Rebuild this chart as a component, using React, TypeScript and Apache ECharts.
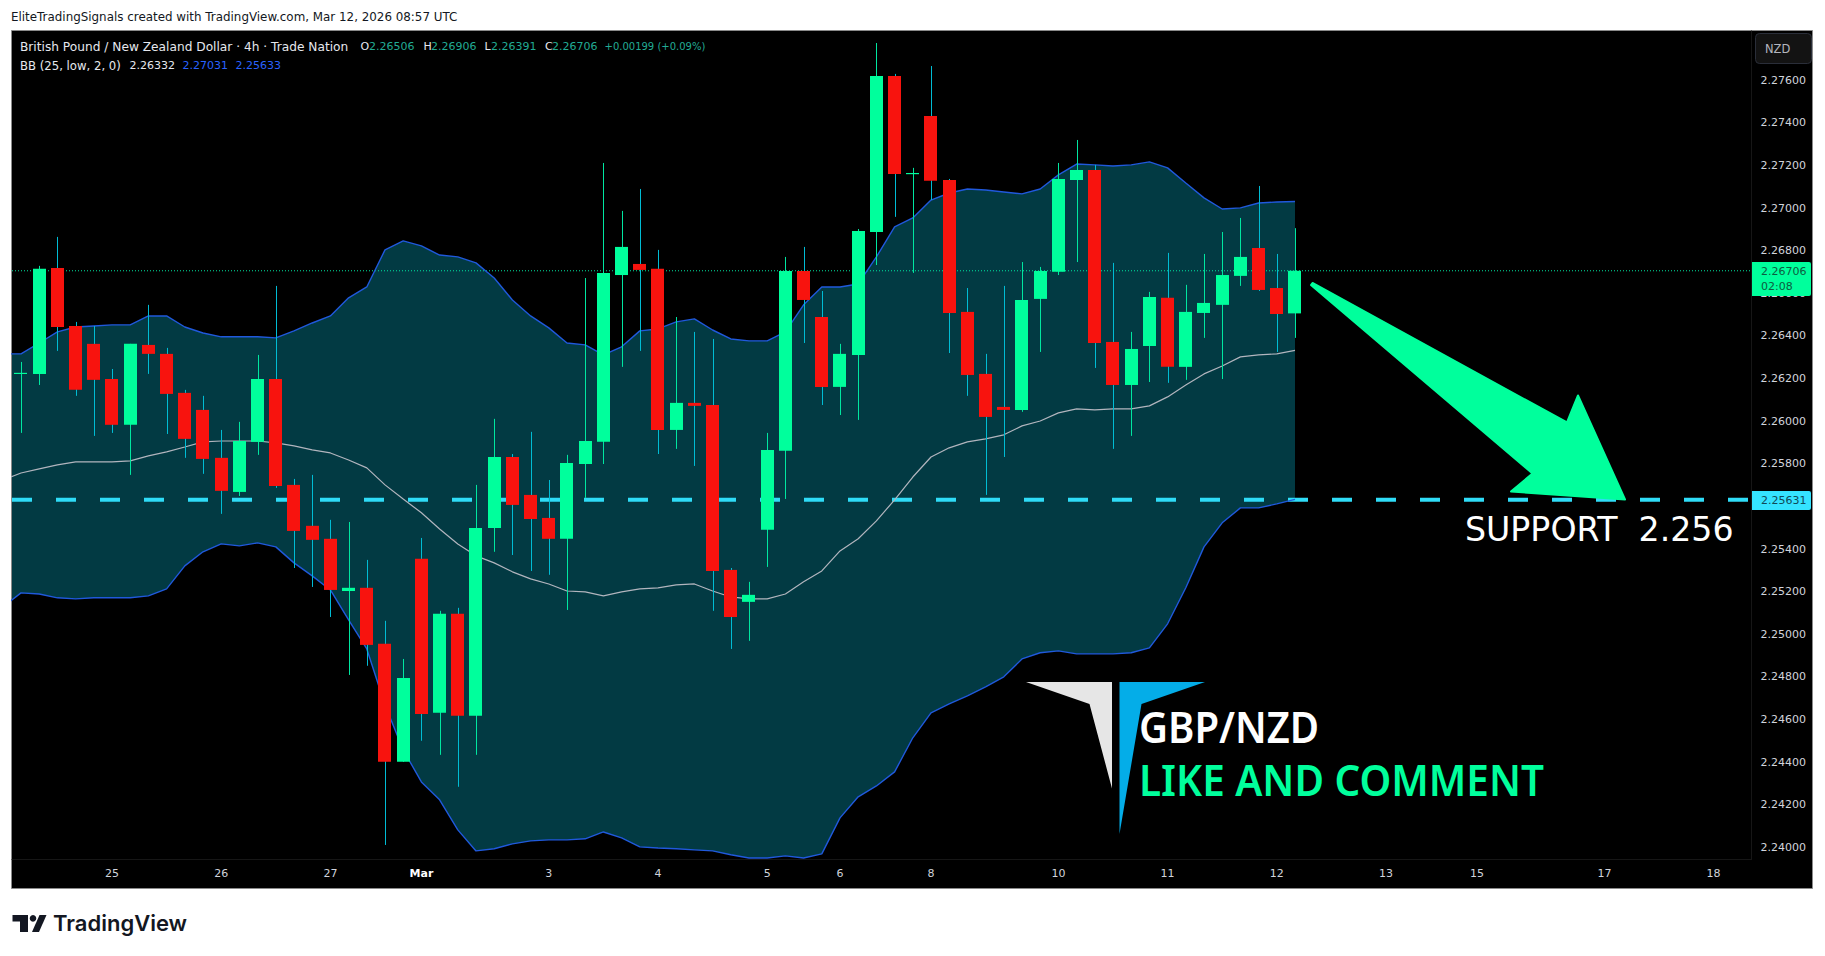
import * as echarts from "echarts";
import React, { useEffect, useRef } from "react";

// candles, oldest first, from the left edge of the plot
const opens = [
  2.26225, 2.26222, 2.26719, 2.26447, 2.26363, 2.26198, 2.25983, 2.26358, 2.26316, 2.26133, 2.26053, 2.25828,
  2.25668, 2.25903, 2.26198, 2.25701, 2.25509, 2.25448, 2.25203, 2.25218, 2.24955, 2.24401, 2.25354, 2.24631,
  2.25096, 2.24617, 2.25499, 2.25832, 2.25654, 2.25546, 2.25448, 2.25799, 2.25903, 2.26686, 2.26738, 2.26715,
  2.25959, 2.26086, 2.26076, 2.25302, 2.25152, 2.2549, 2.25861, 2.26705, 2.26489, 2.26161, 2.26311, 2.26888,
  2.2762, 2.2716, 2.27433, 2.27132, 2.26513, 2.26222, 2.26067, 2.26053, 2.26574, 2.26701, 2.27132, 2.27179,
  2.26372, 2.2617, 2.26353, 2.26579, 2.26255, 2.26508, 2.26546, 2.26682, 2.26813, 2.26625, 2.26506,
];
const highs = [
  2.26278, 2.26729, 2.26865, 2.26466, 2.26447, 2.26245, 2.26363, 2.26546, 2.26344, 2.26147, 2.26119, 2.25959,
  2.25997, 2.26311, 2.26635, 2.25729, 2.25748, 2.25537, 2.25527, 2.25349, 2.25063, 2.24884, 2.25452, 2.2511,
  2.25124, 2.25701, 2.26011, 2.25846, 2.2595, 2.25724, 2.25842, 2.26672, 2.27212, 2.26987, 2.2709, 2.26804,
  2.26489, 2.26419, 2.26386, 2.25311, 2.25246, 2.25945, 2.26771, 2.26818, 2.26611, 2.26363, 2.26902, 2.27775,
  2.2763, 2.27189, 2.27667, 2.27137, 2.26625, 2.26316, 2.26635, 2.26747, 2.26724, 2.27212, 2.2732, 2.27203,
  2.26743, 2.26419, 2.26607, 2.2679, 2.2664, 2.26785, 2.26888, 2.26954, 2.27104, 2.26785, 2.26906,
];
const lows = [
  2.25945, 2.2617, 2.2633, 2.26119, 2.25931, 2.25945, 2.25748, 2.26222, 2.2594, 2.25828, 2.25753, 2.25565,
  2.25649, 2.25842, 2.25687, 2.25311, 2.25222, 2.25081, 2.24809, 2.24852, 2.24011, 2.24401, 2.245, 2.24434,
  2.24284, 2.24434, 2.25387, 2.25372, 2.25297, 2.25279, 2.25114, 2.2564, 2.25799, 2.26255, 2.2633, 2.25846,
  2.2587, 2.2579, 2.2511, 2.24931, 2.24969, 2.25316, 2.25635, 2.26367, 2.26076, 2.26029, 2.26006, 2.26733,
  2.26959, 2.26696, 2.27038, 2.2632, 2.26119, 2.25654, 2.25832, 2.26044, 2.26325, 2.26686, 2.26747, 2.2625,
  2.2587, 2.25931, 2.26184, 2.2618, 2.26194, 2.26391, 2.26198, 2.26635, 2.26611, 2.26325, 2.26391,
];
const closes = [
  2.26227, 2.26715, 2.26442, 2.26147, 2.26194, 2.25983, 2.26363, 2.26316, 2.26128, 2.25917, 2.25823, 2.25673,
  2.25907, 2.26198, 2.25696, 2.25485, 2.25443, 2.25208, 2.25218, 2.2495, 2.24401, 2.24795, 2.24626, 2.25096,
  2.24617, 2.25499, 2.25832, 2.25607, 2.25541, 2.25448, 2.25804, 2.25907, 2.26696, 2.26818, 2.2671, 2.25959,
  2.26086, 2.26072, 2.25297, 2.25081, 2.25185, 2.25865, 2.26705, 2.26569, 2.26161, 2.26316, 2.26893, 2.2762,
  2.2716, 2.27165, 2.27128, 2.26508, 2.26217, 2.2602, 2.26053, 2.26569, 2.26705, 2.27137, 2.27179, 2.26367,
  2.2617, 2.26339, 2.26583, 2.26255, 2.26513, 2.26555, 2.26686, 2.26771, 2.26616, 2.26503, 2.26706,
];

// Bollinger bands start one bar before the first visible candle
const bbUpper = [
  2.26316, 2.26316, 2.26367, 2.26419, 2.26442, 2.26447, 2.26452, 2.26452, 2.26494, 2.26494, 2.26442, 2.26414,
  2.26396, 2.26396, 2.26396, 2.26391, 2.26424, 2.26461, 2.26494, 2.26579, 2.2663, 2.26804, 2.26846, 2.26823,
  2.2678, 2.26771, 2.26743, 2.26672, 2.26569, 2.26494, 2.26438, 2.26367, 2.26358, 2.26311, 2.26349, 2.26424,
  2.26433, 2.26466, 2.2648, 2.26428, 2.26386, 2.26377, 2.26377, 2.26419, 2.26546, 2.2663, 2.2663, 2.26644,
  2.26771, 2.26912, 2.26954, 2.27038, 2.27071, 2.2709, 2.27085, 2.27076, 2.27067, 2.2709, 2.27156, 2.27207,
  2.27203, 2.27198, 2.27203, 2.27217, 2.27189, 2.27118, 2.27048, 2.26996, 2.27001, 2.27024, 2.27029, 2.27031,
];
const bbBasis = [
  2.25724, 2.25757, 2.25776, 2.25795, 2.25809, 2.25809, 2.25809, 2.25814, 2.25837, 2.25856, 2.25879, 2.25903,
  2.25907, 2.25907, 2.25907, 2.25898, 2.25884, 2.25865, 2.25851, 2.25818, 2.25781, 2.25701, 2.25635, 2.2557,
  2.25494, 2.25424, 2.25368, 2.25335, 2.25293, 2.2526, 2.25236, 2.25203, 2.25199, 2.2518, 2.25199, 2.25213,
  2.25218, 2.25232, 2.25236, 2.25203, 2.25175, 2.25166, 2.25166, 2.25189, 2.25246, 2.25297, 2.25391, 2.25448,
  2.25532, 2.25631, 2.25738, 2.25832, 2.25875, 2.25903, 2.25917, 2.25936, 2.25978, 2.26001, 2.26039, 2.26058,
  2.26053, 2.26058, 2.26058, 2.26072, 2.26114, 2.2617, 2.26222, 2.26259, 2.26302, 2.26311, 2.26316, 2.26332,
];
const bbLower = [
  2.25128, 2.25194, 2.25189, 2.25171, 2.25166, 2.25171, 2.25171, 2.25171, 2.2518, 2.25213, 2.25321, 2.25387,
  2.25424, 2.25415, 2.25429, 2.2541, 2.25335, 2.25274, 2.25208, 2.25067, 2.24931, 2.24668, 2.24457, 2.24307,
  2.24223, 2.24082, 2.23983, 2.23993, 2.24016, 2.2403, 2.24035, 2.24035, 2.2404, 2.24072, 2.24044, 2.24002,
  2.23997, 2.23993, 2.23988, 2.23983, 2.23965, 2.2395, 2.2395, 2.2396, 2.2395, 2.23969, 2.24138, 2.24237,
  2.24288, 2.24354, 2.24514, 2.24631, 2.24673, 2.24711, 2.24753, 2.248, 2.24884, 2.24913, 2.24922, 2.24908,
  2.24908, 2.24908, 2.24913, 2.24936, 2.25049, 2.25218, 2.2541, 2.25523, 2.25593, 2.25593, 2.25612, 2.25633,
];

const priceTicks = [
  2.24, 2.242, 2.244, 2.246, 2.248, 2.25, 2.252, 2.254, 2.256, 2.258, 2.26, 2.262, 2.264, 2.266, 2.268, 2.27, 2.272,
  2.274, 2.276,
];
const dateTicks = [5, 11, 17, 22, 29, 35, 41, 45, 50, 57, 63, 69, 75, 80, 87, 93];
const dateLabels = ["25", "26", "27", "Mar", "3", "4", "5", "6", "8", "10", "11", "12", "13", "15", "17", "18"];

const supportLevel = 2.25631;
const lastClose = 2.26706;

const X_MIN = -0.4945;
const X_MAX = 95.088;

const FONT = "DejaVu Sans";
const GREEN = "#00ff9c";
const RED = "#f8130e";
const WICK_UP = "#00e6a0";
const WICK_DOWN = "#00bcd4";
const BAND_FILL = "#023a43";
const BAND_LINE = "#2059dc";
const CYAN = "#2fdcf7";

const txt = (text: string, x: number, y: number, fill: string, fontSize = 11, extra: any = {}) => ({
  type: "text",
  x,
  y,
  z: 100,
  silent: true,
  ...extra.el,
  style: {
    text,
    fill,
    fontSize,
    fontFamily: extra.family || FONT,
    fontWeight: extra.weight || "normal",
    textVerticalAlign: "middle",
  },
});

const poly = (points: number[][], fill: string, extra: any = {}) => ({
  type: "polygon",
  z: 100,
  silent: true,
  shape: { points },
  style: { fill, ...extra },
});

const App: React.FC = () => {
  const chartRef = useRef<HTMLDivElement | null>(null);

  useEffect(() => {
    if (!chartRef.current) return;
    const chart = echarts.init(chartRef.current, undefined, { renderer: "svg" });

    const bandAt = (values: number[]) => values.map((v, i) => [i - 1, v]);
    const candles = opens.map((o, i) => [i, o, highs[i], lows[i], closes[i]]);
    const teal = "#22ab94";

    const option: any = {
      animation: false,
      backgroundColor: "#ffffff",
      grid: { left: 12, top: 31, width: 1739.6, height: 828, containLabel: false },
      xAxis: {
        type: "value",
        min: X_MIN,
        max: X_MAX,
        splitLine: { show: false },
        axisTick: { show: false },
        axisLine: { show: true, onZero: false, lineStyle: { color: "#161616" } },
        axisLabel: {
          customValues: dateTicks,
          margin: 9,
          color: "#d1d4dc",
          fontSize: 11,
          fontFamily: FONT,
          formatter: (v: number) => {
            const label = dateLabels[dateTicks.indexOf(v)];
            return label === "Mar" ? "{m|Mar}" : label;
          },
          rich: { m: { color: "#ffffff", fontSize: 11, fontWeight: "bold", fontFamily: FONT } },
        },
      },
      yAxis: {
        type: "value",
        position: "right",
        min: 2.239451,
        max: 2.278314,
        splitLine: { show: false },
        axisTick: { show: false },
        axisLine: { show: true, onZero: false, lineStyle: { color: "#161616" } },
        axisLabel: {
          customValues: priceTicks,
          margin: 9,
          color: "#d1d4dc",
          fontSize: 11,
          fontFamily: FONT,
          formatter: (v: number) => v.toFixed(5),
        },
      },
      series: [
        {
          name: "bbFill",
          type: "custom",
          z: 1,
          clip: true,
          silent: true,
          encode: { x: 0, y: 1 },
          data: [[0, bbBasis[0]]],
          renderItem: (_params: any, api: any) => {
            const top = bbUpper.map((v, i) => api.coord([i - 1, v]));
            const bottom = bbLower.map((v, i) => api.coord([i - 1, v])).reverse();
            return {
              type: "polygon",
              shape: { points: [...top, ...bottom] },
              style: { fill: BAND_FILL },
            };
          },
        },
        {
          name: "Support",
          type: "line",
          z: 2,
          symbol: "none",
          lineStyle: { color: CYAN, width: 4, type: [20, 24] },
          data: [
            [X_MIN, supportLevel],
            [X_MAX, supportLevel],
          ],
        },
        {
          name: "Last",
          type: "line",
          z: 2,
          symbol: "none",
          lineStyle: { color: WICK_UP, width: 1, type: [1, 2] },
          data: [
            [X_MIN, lastClose],
            [X_MAX, lastClose],
          ],
        },
        {
          name: "Basis",
          type: "line",
          z: 2,
          symbol: "none",
          lineStyle: { color: "#b2b5be", width: 1.2 },
          data: bandAt(bbBasis),
        },
        {
          name: "Upper",
          type: "line",
          z: 2,
          symbol: "none",
          lineStyle: { color: BAND_LINE, width: 1.4 },
          data: bandAt(bbUpper),
        },
        {
          name: "Lower",
          type: "line",
          z: 2,
          symbol: "none",
          lineStyle: { color: BAND_LINE, width: 1.4 },
          data: bandAt(bbLower),
        },
        {
          name: "GBPNZD",
          type: "custom",
          z: 3,
          clip: true,
          encode: { x: 0, y: [1, 2, 3, 4] },
          data: candles,
          renderItem: (_params: any, api: any) => {
            const i = api.value(0);
            const o = api.value(1);
            const c = api.value(4);
            const up = c >= o;
            const [cx, yHigh] = api.coord([i, api.value(2)]);
            const yLow = api.coord([i, api.value(3)])[1];
            const yTop = api.coord([i, Math.max(o, c)])[1];
            const yBottom = api.coord([i, Math.min(o, c)])[1];
            return {
              type: "group",
              children: [
                {
                  type: "line",
                  shape: { x1: Math.round(cx) + 0.5, y1: yHigh, x2: Math.round(cx) + 0.5, y2: yLow },
                  style: { stroke: up ? WICK_UP : WICK_DOWN, lineWidth: 1 },
                },
                {
                  type: "rect",
                  shape: {
                    x: Math.round(cx - 6.5),
                    y: yTop,
                    width: 13,
                    height: Math.max(yBottom - yTop, 1.2),
                  },
                  style: { fill: up ? GREEN : RED },
                },
              ],
            };
          },
        },
      ],
      graphic: {
        elements: [
          // chart panel
          {
            type: "rect",
            z: -10,
            silent: true,
            shape: { x: 11.5, y: 30.5, width: 1801, height: 858 },
            style: { fill: "#000000", stroke: "#8a8a8a", lineWidth: 1 },
          },
          txt("EliteTradingSignals created with TradingView.com, Mar 12, 2026 08:57 UTC", 11, 16.5, "#131722", 11.9),
          // legend
          txt("British Pound / New Zealand Dollar · 4h · Trade Nation", 20, 46.5, "#e6e8ee", 12.2),
          txt("O", 360.5, 46.5, "#e6e8ee"),
          txt("2.26506", 369, 46.5, teal),
          txt("H", 423.5, 46.5, "#e6e8ee"),
          txt("2.26906", 431, 46.5, teal),
          txt("L", 484.5, 46.5, "#e6e8ee"),
          txt("2.26391", 491, 46.5, teal),
          txt("C", 545, 46.5, "#e6e8ee"),
          txt("2.26706", 552, 46.5, teal),
          txt("+0.00199 (+0.09%)", 604.5, 46.5, teal, 10),
          txt("BB (25, low, 2, 0)", 20, 65.5, "#e6e8ee", 11.7),
          txt("2.26332", 129.5, 65.5, "#e6e8ee"),
          txt("2.27031", 182.5, 65.5, "#2962ff"),
          txt("2.25633", 235.5, 65.5, "#2962ff"),
          // currency badge
          {
            type: "rect",
            z: 100,
            silent: true,
            shape: { x: 1755.5, y: 33.5, width: 56, height: 30, r: 4 },
            style: { fill: "#131313", stroke: "#2a2e39", lineWidth: 1 },
          },
          txt("NZD", 1765, 48.5, "#b2b5be", 11.5),
          // last price tag
          {
            type: "rect",
            z: 100,
            silent: true,
            shape: { x: 1752, y: 262, width: 59, height: 34, r: [0, 2, 2, 0] },
            style: { fill: GREEN },
          },
          txt("2.26706", 1761, 271.5, "#0d5c40"),
          txt("02:08", 1761, 286.5, "#0d5c40"),
          // support tag
          {
            type: "rect",
            z: 100,
            silent: true,
            shape: { x: 1752, y: 491, width: 59, height: 19, r: [0, 2, 2, 0] },
            style: { fill: "#35e3ff" },
          },
          txt("2.25631", 1761, 500.5, "#0f4a57"),
          // drawn arrow
          poly(
            [
              [1312.5, 283],
              [1567, 422.5],
              [1578, 395.5],
              [1625, 499.5],
              [1511, 491.5],
              [1532.5, 473.5],
              [1311, 285],
            ],
            GREEN,
            { stroke: GREEN, lineWidth: 2, lineJoin: "round" },
          ),
          txt("SUPPORT  2.256", 1465, 529, "#ffffff", 33.2),
          // logo
          poly(
            [
              [1026, 682],
              [1112, 682],
              [1112, 788.5],
              [1089.5, 704],
            ],
            "#e6e6e6",
          ),
          poly(
            [
              [1119.5, 682],
              [1205, 682],
              [1141.5, 704],
              [1119.5, 834],
            ],
            "#04ade8",
          ),
          txt("GBP/NZD", 1139, 726, "#ffffff", 44, { family: "Noto Sans", weight: 600, el: { scaleX: 0.91 } }),
          txt("LIKE AND COMMENT", 1139, 779, GREEN, 43, { family: "Noto Sans", weight: 600, el: { scaleX: 0.94 } }),
          // TradingView mark
          poly(
            [
              [12.5, 915],
              [28, 915],
              [28, 932],
              [20, 932],
              [20, 921.5],
              [12.5, 921.5],
            ],
            "#131722",
          ),
          {
            type: "circle",
            z: 100,
            silent: true,
            shape: { cx: 33, cy: 918.3, r: 3.3 },
            style: { fill: "#131722" },
          },
          poly(
            [
              [39.5, 915],
              [46.5, 915],
              [39, 932],
              [32, 932],
            ],
            "#131722",
          ),
          txt("TradingView", 53, 923, "#131722", 22, { family: "Inter", weight: 600 }),
        ],
      },
    };

    chart.setOption(option);
    return () => {
      chart.dispose();
    };
  }, []);

  return <div ref={chartRef} style={{ position: "absolute", left: 0, top: 0, width: 1825, height: 956 }} />;
};

export default App;
